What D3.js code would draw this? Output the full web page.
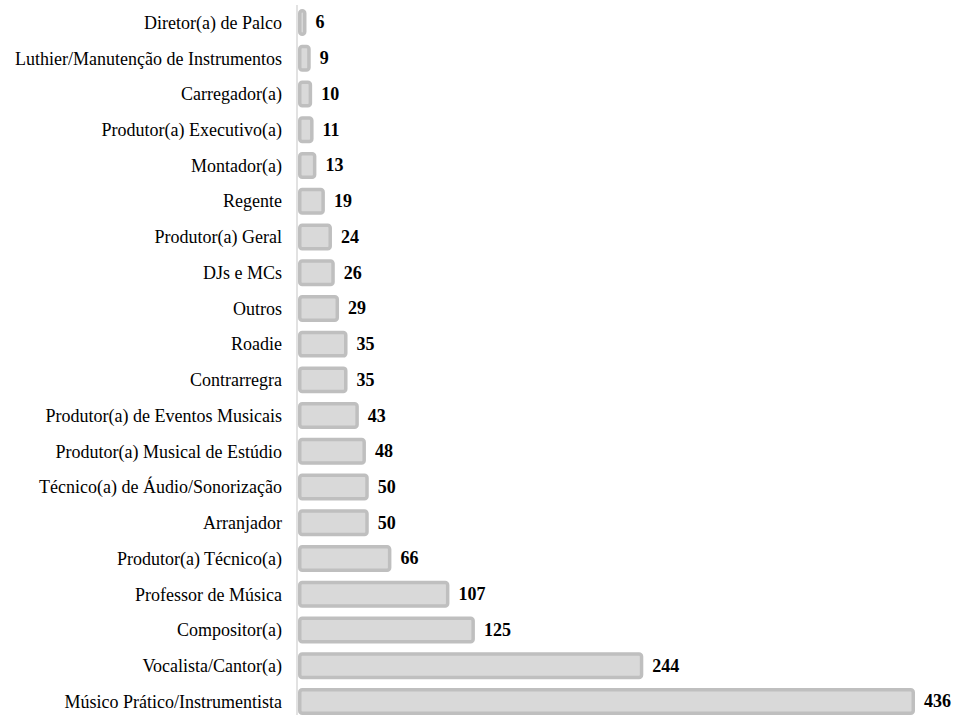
<!DOCTYPE html>
<html>
<head>
<meta charset="utf-8">
<script src="https://cdn.jsdelivr.net/npm/d3@7"></script>
<style>
  body { margin: 0; background: #fff; }
  svg { display: block; }
</style>
</head>
<body>
<svg width="953" height="715"></svg>
<script>
// categories, top to bottom
const roles = [
  "Diretor(a) de Palco",
  "Luthier/Manutenção de Instrumentos",
  "Carregador(a)",
  "Produtor(a) Executivo(a)",
  "Montador(a)",
  "Regente",
  "Produtor(a) Geral",
  "DJs e MCs",
  "Outros",
  "Roadie",
  "Contrarregra",
  "Produtor(a) de Eventos Musicais",
  "Produtor(a) Musical de Estúdio",
  "Técnico(a) de Áudio/Sonorização",
  "Arranjador",
  "Produtor(a) Técnico(a)",
  "Professor de Música",
  "Compositor(a)",
  "Vocalista/Cantor(a)",
  "Músico Prático/Instrumentista"
];

// counts per role
const counts = [6, 9, 10, 11, 13, 19, 24, 26, 29, 35, 35, 43, 48, 50, 50, 66, 107, 125, 244, 436];

const data = roles.map((r, i) => ({ role: r, count: counts[i] }));

const svg = d3.select("svg");
const left = 298;

// scales
const x = d3.scaleLinear()
  .domain([0, 436])
  .range([left, 915]);

const y = d3.scaleBand()
  .domain(roles)
  .range([9, 715])
  .paddingInner(0.245)
  .paddingOuter(0);

const sw = 3.5;

// bars
svg.selectAll("rect.bar")
  .data(data)
  .enter()
  .append("rect")
  .attr("class", "bar")
  .attr("x", x(0) + sw / 2)
  .attr("y", d => y(d.role) + sw / 2)
  .attr("width", d => x(d.count) - x(0) - sw)
  .attr("height", y.bandwidth() - sw)
  .attr("rx", 2.5)
  .attr("fill", "#d9d9d9")
  .attr("stroke", "#bfbfbf")
  .attr("stroke-width", sw);

// axis line
svg.append("line")
  .attr("x1", left - 1).attr("x2", left - 1)
  .attr("y1", 5).attr("y2", 715)
  .attr("stroke", "#d9d9d9")
  .attr("stroke-width", 1.5);

// category labels
svg.selectAll("text.label")
  .data(data)
  .enter()
  .append("text")
  .attr("class", "label")
  .attr("x", left - 16)
  .attr("y", d => y(d.role) + y.bandwidth() / 2)
  .attr("dy", "0.35em")
  .attr("text-anchor", "end")
  .style("font-family", '"Liberation Serif"')
  .style("font-size", "18px")
  .attr("fill", "#000")
  .text(d => d.role);

// value labels
svg.selectAll("text.value")
  .data(data)
  .enter()
  .append("text")
  .attr("class", "value")
  .attr("x", d => x(d.count) + 9)
  .attr("y", d => y(d.role) + y.bandwidth() / 2)
  .attr("dy", "0.33em")
  .style("font-family", '"Liberation Serif"')
  .style("font-size", "18px")
  .style("font-weight", "bold")
  .attr("fill", "#000")
  .text(d => d.count);
</script>
</body>
</html>
